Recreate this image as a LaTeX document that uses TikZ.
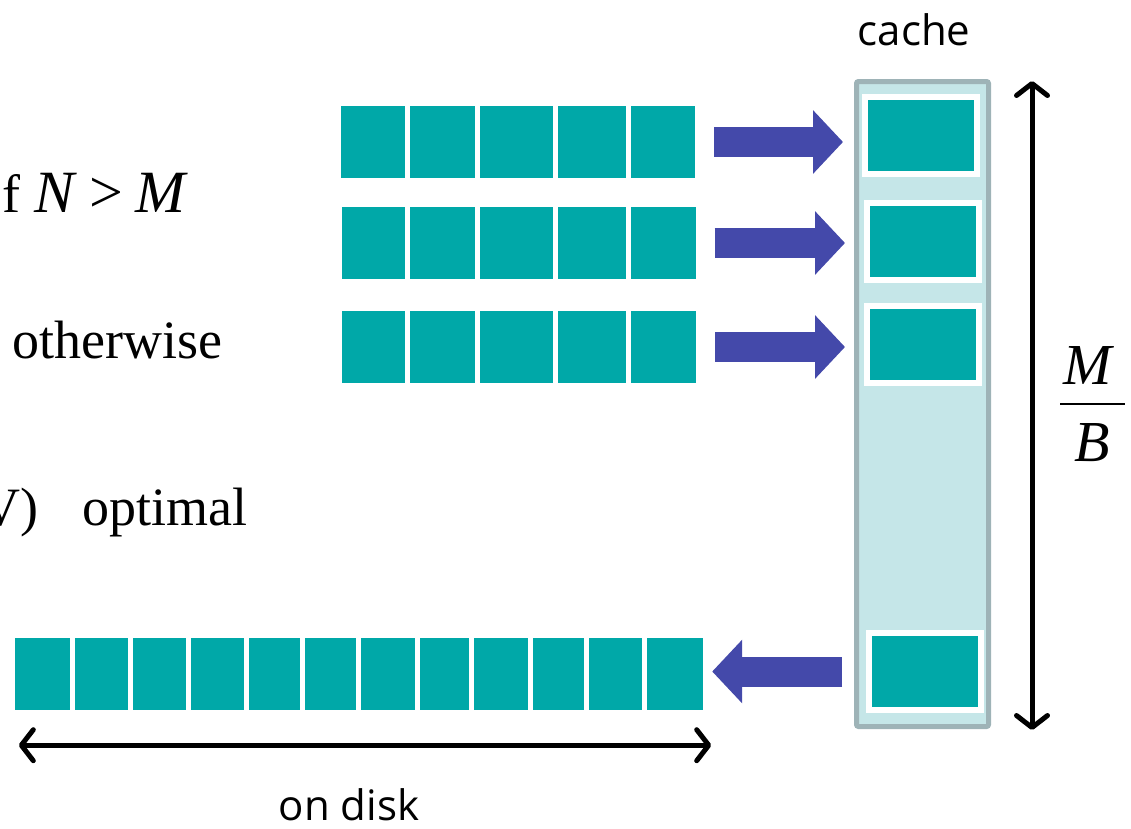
\documentclass[tikz,border=0pt]{standalone}
\usepackage{xcolor}
\usepackage{fontspec}
\setmainfont{Liberation Serif}
\setsansfont{Open Sans}
\usepackage{tikz}
\usetikzlibrary{calc}
\usetikzlibrary{arrows.meta}

\definecolor{tealblock}{RGB}{0,168,168}
\definecolor{cachefill}{RGB}{197,230,232}
\definecolor{cacheedge}{RGB}{158,179,183}
\definecolor{pushblue}{RGB}{68,73,170}

\begin{document}
\begin{tikzpicture}[x=1pt,y=-1pt]
% 1 = 1 pixel of the slide, y going down
    \def\ROWW{354pt} %width of a short row
    \def\ROWH{72pt} %height of every row
    \def\DISKW{688pt}
    \def\GAP{19pt} %gap between block and arrow

    \tikzset{
      block/.style={fill=tealblock,draw=none,inner sep=0pt,
        minimum height=\ROWH},
      sep/.style={white,line width=5pt},
      slot/.style={fill=tealblock,draw=white,line width=6pt,inner sep=0pt,
        minimum width=112pt,minimum height=77pt},
      push/.style={-{Triangle[width=62pt,length=30pt]},
        line width=30pt,color=pushblue},
      dimen/.style={{Straight Barb[length=12pt,width=31pt,round]}-%
        {Straight Barb[length=12pt,width=31pt,round]},line width=5pt},
      serif/.style={font=\fontsize{54}{60}\selectfont,inner sep=0pt},
      sanstext/.style={font=\sffamily\fontsize{42}{48}\selectfont,inner sep=0pt},
    }

    \useasboundingbox (0,0) rectangle (1131,828);

    % TEXT ON THE LEFT (cut by the slide)
    \node[serif,anchor=base east] (cond) at (188,212)
        {f {\fontsize{60}{60}\selectfont\textit{N}\hspace{0.2em}>\hspace{0.2em}\textit{M}}};
    \node[serif,anchor=base west] (other) at (12,358) {otherwise};
    \node[serif,anchor=base east] (opt) at (248,525)
        {V)\hspace{0.83em}optimal};

    % CACHE COLUMN
    \node[draw=cacheedge,fill=cachefill,line width=5pt,rounded corners=2pt,
        minimum width=132pt,minimum height=645pt] (cache) at (922.5,404) {};
    \node[sanstext,anchor=base] (cachelbl) at (914,45) {cache};

    \foreach \x/\y [count=\i] in {921/135.5,923/241,923/344.5,925/671.5}
        \node[slot] (slot\i) at (\x,\y) {};

    % SHORT ROWS
    \foreach \x/\y [count=\i] in {518/142,518.5/243,519/347}{
        \node[block,minimum width=\ROWW] (row\i) at (\x,\y) {};
        \foreach \d in {407,477,555,628}
            \draw[sep] (\d,0 |- row\i.north) -- (\d,0 |- row\i.south);
        % ARROW INTO THE CACHE
        \draw[push,shorten <=\GAP,shorten >=\GAP]
            (row\i.east) -- (row\i.east -| slot\i.west);
    }

    % ROW ON DISK
    \node[block,minimum width=\DISKW] (disk) at (359,674) {};
    \foreach \d in {72,130,188,246,302,358,417,471,530,586,644}
        \draw[sep] (\d,0 |- disk.north) -- (\d,0 |- disk.south);

    % ARROW BACK TO DISK
    \draw[push,shorten <=24pt,shorten >=9pt]
        (slot4.west) -- (slot4.west -| disk.east);

    % on disk below
    \coordinate (dl) at ([shift={(4pt,-35pt)}]disk.south west);
    \coordinate (dr) at ([shift={(8pt,-35pt)}]disk.south east);
    \draw[dimen] (dl) -- (dr);
    \node[sanstext,anchor=base] (disklbl) at (349,820) {on disk};

    % M/B beside the cache
    \coordinate (mtop) at (1032,81);
    \coordinate (mbot) at (1032,730);
    \draw[dimen] (mtop) -- (mbot);
    \node[serif,font=\fontsize{58}{60}\selectfont,anchor=base] (fracm)
        at (1089,384) {\textit{M}};
    \node[serif,font=\fontsize{58}{60}\selectfont,anchor=base] (fracb)
        at (1092,461) {\textit{B}};
    \draw[line width=2.5pt] (1060,404) -- (1125,404);

\end{tikzpicture}
\end{document}
